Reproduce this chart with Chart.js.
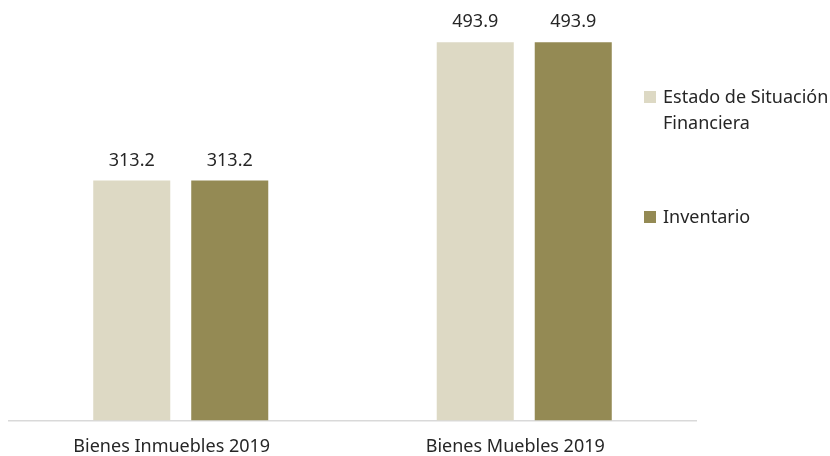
<!DOCTYPE html>
<html>
<head>
<meta charset="utf-8">
<script src="https://cdn.jsdelivr.net/npm/chart.js@4"></script>
<style>
  body { margin: 0; background: #fff; }
  #wrap { position: relative; width: 830px; height: 456px; overflow: hidden; }
  #legend { position: absolute; left: 644px; top: 0; font-family: "Noto Sans", sans-serif; font-size: 18px; color: #262626; }
  .item { position: absolute; left: 0; display: flex; align-items: flex-start; width: 190px; }
  .box { width: 12px; height: 12px; flex: none; margin-right: 7px; margin-top: 8px; }
  .txt { line-height: 26px; width: 172px; }
</style>
</head>
<body>
<div id="wrap">
  <canvas id="chart" width="830" height="456"></canvas>
  <div id="legend"></div>
</div>
<script>
const categories = ["Bienes Inmuebles 2019", "Bienes Muebles 2019"];
const seriesNames = ["Estado de Situación Financiera", "Inventario"];
const estadoValues = [313.2, 493.9];
const inventarioValues = [313.2, 493.9];
const colors = ["#DDD9C4", "#948A54"];

const valueLabels = {
  id: "valueLabels",
  afterDatasetsDraw(chart) {
    const ctx = chart.ctx;
    ctx.save();
    ctx.font = "18px 'Noto Sans', sans-serif";
    ctx.fillStyle = "#262626";
    ctx.textAlign = "center";
    ctx.textBaseline = "middle";
    chart.data.datasets.forEach((ds, i) => {
      chart.getDatasetMeta(i).data.forEach((bar, j) => {
        ctx.fillText(ds.data[j].toFixed(1), bar.x, bar.y - 20);
      });
    });
    ctx.restore();
  }
};

const ctx = document.getElementById("chart").getContext("2d");
const chart = new Chart(ctx, {
  type: "bar",
  data: {
    labels: categories,
    datasets: [
      { label: seriesNames[0], data: estadoValues, backgroundColor: colors[0] },
      { label: seriesNames[1], data: inventarioValues, backgroundColor: colors[1] }
    ]
  },
  options: {
    responsive: false,
    animation: false,
    datasets: { bar: { categoryPercentage: 0.5706, barPercentage: 0.786 } },
    layout: { padding: { left: 9, right: 134, top: 0, bottom: -10 } },
    plugins: { legend: { display: false }, tooltip: { enabled: false } },
    scales: {
      x: {
        grid: { display: false },
        border: { display: true, color: "#D9D9D9", width: 1.5 },
        ticks: { color: "#262626", font: { family: "'Noto Sans', sans-serif", size: 18 }, padding: 8, labelOffset: -9 }
      },
      y: { display: false, min: 0, max: 549 }
    }
  },
  plugins: [valueLabels]
});

// legend in HTML, to the right of the plot
const legend = document.getElementById("legend");
const legendTops = [83, 203];
seriesNames.forEach((name, i) => {
  const item = document.createElement("div");
  item.className = "item";
  item.style.top = legendTops[i] + "px";
  const box = document.createElement("div");
  box.className = "box";
  box.style.background = colors[i];
  const txt = document.createElement("div");
  txt.className = "txt";
  txt.textContent = name;
  item.appendChild(box);
  item.appendChild(txt);
  legend.appendChild(item);
});
</script>
</body>
</html>
